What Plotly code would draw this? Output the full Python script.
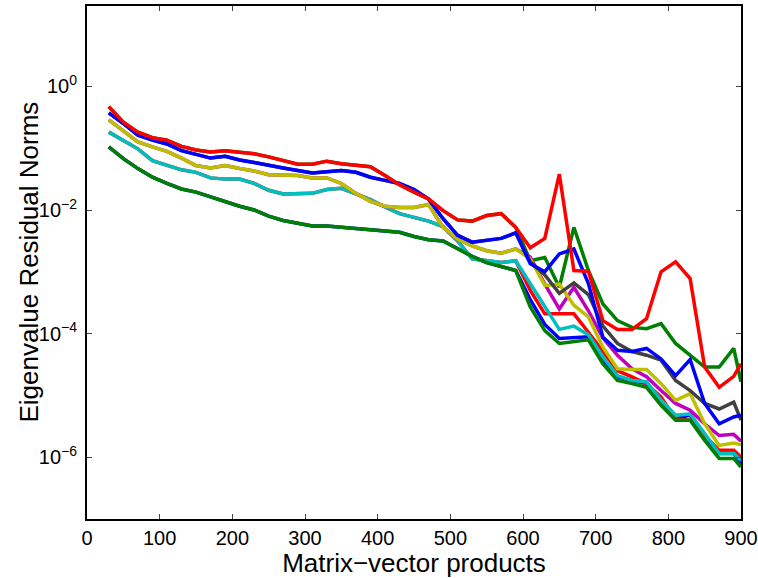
import plotly.graph_objects as go

# x positions (matrix-vector products)
x = [30, 50, 70, 90, 110, 130, 150, 170, 190, 210, 230, 250, 270, 290, 310,
     330, 350, 370, 390, 410, 430, 450, 470, 490, 510, 530, 550, 570, 590,
     610, 630, 650, 670, 690, 710, 730, 750, 770, 790, 810, 830, 850, 870, 890, 900]

# residual norms, one list per eigenvalue (colours follow the classic b,g,r,c,m,y,k cycle)
b1 = [0.105, 0.0676, 0.0468, 0.0339, 0.0269, 0.0219, 0.0195, 0.0162, 0.0138, 0.0115,
      0.0100, 0.00794, 0.00676, 0.00617, 0.00550, 0.00550, 0.00525, 0.00513, 0.00490, 0.00468,
      0.00437, 0.00372, 0.00331, 0.00316, 0.00234, 0.00178, 0.00141, 0.00120, 0.00105,
      3.55e-4, 1.41e-4, 8.32e-5, 8.71e-5, 8.91e-5, 3.72e-5, 2.00e-5, 1.74e-5, 1.55e-5,
      7.41e-6, 4.17e-6, 4.79e-6, 2.14e-6, 1.15e-6, 1.15e-6, 7.94e-7]
g1 = [0.47, 0.263, 0.182, 0.148, 0.135, 0.107, 0.0933, 0.0871, 0.0912, 0.0871,
      0.0813, 0.0724, 0.0631, 0.0550, 0.0550, 0.0617, 0.0562, 0.0537, 0.0501, 0.0363,
      0.0257, 0.0195, 0.0151, 0.00977, 0.00692, 0.00661, 0.00813, 0.00871, 0.00525,
      1.51e-3, 1.70e-3, 5.62e-4, 5.25e-3, 1.05e-3, 3.02e-4, 1.62e-4, 1.26e-4, 1.20e-4,
      1.45e-4, 6.92e-5, 4.47e-5, 2.88e-5, 2.88e-5, 5.75e-5, 1.66e-5]
r1 = [0.182, 0.135, 0.0977, 0.0631, 0.0537, 0.0447, 0.0407, 0.0331, 0.0316, 0.0316,
      0.0269, 0.0209, 0.0182, 0.0186, 0.0186, 0.0214, 0.0224, 0.0182, 0.0148, 0.0112,
      0.00871, 0.00759, 0.00661, 0.00537, 0.00316, 0.00162, 0.00151, 0.00141, 0.00151,
      5.01e-4, 2.09e-4, 2.09e-4, 2.09e-4, 1.05e-4, 5.01e-5, 2.51e-5, 2.00e-5, 1.55e-5,
      9.33e-6, 4.17e-6, 3.98e-6, 2.24e-6, 1.29e-6, 1.29e-6, 1.0e-6]
c1 = [0.182, 0.135, 0.0977, 0.0631, 0.0537, 0.0447, 0.0407, 0.0331, 0.0316, 0.0316,
      0.0269, 0.0209, 0.0182, 0.0186, 0.0186, 0.0214, 0.0224, 0.0182, 0.0148, 0.0112,
      0.00871, 0.00759, 0.00661, 0.00537, 0.00316, 0.00162, 0.00151, 0.00141, 0.00151,
      6.46e-4, 2.88e-4, 1.17e-4, 1.32e-4, 9.55e-5, 4.17e-5, 2.09e-5, 1.74e-5, 1.66e-5,
      8.32e-6, 4.79e-6, 5.01e-6, 2.40e-6, 1.15e-6, 1.15e-6, 8.91e-7]
m1 = [0.288, 0.191, 0.126, 0.105, 0.0891, 0.0692, 0.0525, 0.0479, 0.0525, 0.0468,
      0.0427, 0.0372, 0.0372, 0.0363, 0.0331, 0.0331, 0.0269, 0.0186, 0.0138, 0.0115,
      0.0110, 0.0110, 0.0123, 0.00525, 0.00339, 0.00263, 0.00219, 0.00200, 0.00234,
      1.74e-3, 6.31e-4, 2.51e-4, 5.62e-4, 2.34e-4, 8.51e-5, 4.47e-5, 2.69e-5, 2.00e-5,
      1.20e-5, 7.41e-6, 5.75e-6, 3.47e-6, 2.24e-6, 2.34e-6, 1.82e-6]
y1 = [0.288, 0.191, 0.126, 0.105, 0.0891, 0.0692, 0.0525, 0.0479, 0.0525, 0.0468,
      0.0427, 0.0372, 0.0372, 0.0363, 0.0331, 0.0331, 0.0269, 0.0186, 0.0138, 0.0115,
      0.0110, 0.0110, 0.0123, 0.00525, 0.00339, 0.00263, 0.00219, 0.00200, 0.00234,
      1.62e-3, 6.03e-4, 6.31e-4, 2.88e-4, 1.86e-4, 6.03e-5, 2.69e-5, 2.63e-5, 2.63e-5,
      1.55e-5, 8.32e-6, 1.07e-5, 3.47e-6, 1.55e-6, 1.70e-6, 1.58e-6]
k1 = [0.372, 0.251, 0.162, 0.135, 0.117, 0.0912, 0.0794, 0.0692, 0.0741, 0.0646,
      0.0589, 0.0525, 0.0479, 0.0437, 0.0398, 0.0417, 0.0437, 0.0407, 0.0339, 0.0302,
      0.0269, 0.0214, 0.0151, 0.00724, 0.00389, 0.00302, 0.00324, 0.00347, 0.00427,
      1.45e-3, 8.91e-4, 4.47e-4, 6.61e-4, 4.27e-4, 1.32e-4, 6.92e-5, 5.13e-5, 4.47e-5,
      3.72e-5, 1.74e-5, 1.20e-5, 7.41e-6, 6.03e-6, 7.76e-6, 3.98e-6]
b2 = [0.372, 0.251, 0.162, 0.135, 0.117, 0.0912, 0.0794, 0.0692, 0.0741, 0.0646,
      0.0589, 0.0525, 0.0479, 0.0437, 0.0398, 0.0417, 0.0437, 0.0407, 0.0339, 0.0302,
      0.0269, 0.0214, 0.0151, 0.00724, 0.00389, 0.00302, 0.00324, 0.00347, 0.00427,
      1.35e-3, 1.0e-3, 1.95e-3, 2.34e-3, 6.46e-4, 8.71e-5, 5.37e-5, 5.13e-5, 5.75e-5,
      3.89e-5, 2.09e-5, 3.80e-5, 7.41e-6, 3.47e-6, 4.47e-6, 4.79e-6]
g2 = [0.105, 0.0676, 0.0468, 0.0339, 0.0269, 0.0219, 0.0195, 0.0162, 0.0138, 0.0115,
      0.0100, 0.00794, 0.00676, 0.00617, 0.00550, 0.00550, 0.00525, 0.00513, 0.00490, 0.00468,
      0.00437, 0.00372, 0.00331, 0.00316, 0.00234, 0.00178, 0.00141, 0.00120, 0.00105,
      2.69e-4, 1.12e-4, 6.92e-5, 7.41e-5, 7.94e-5, 3.24e-5, 1.74e-5, 1.55e-5, 1.35e-5,
      6.92e-6, 3.98e-6, 3.98e-6, 1.86e-6, 9.55e-7, 9.55e-7, 6.92e-7]
r2 = [0.47, 0.263, 0.182, 0.148, 0.135, 0.107, 0.0933, 0.0871, 0.0912, 0.0871,
      0.0813, 0.0724, 0.0631, 0.0550, 0.0550, 0.0617, 0.0562, 0.0537, 0.0501, 0.0363,
      0.0257, 0.0195, 0.0151, 0.00977, 0.00692, 0.00661, 0.00813, 0.00871, 0.00525,
      2.45e-3, 3.47e-3, 0.0380, 1.05e-3, 1.02e-3, 1.62e-4, 1.17e-4, 1.17e-4, 1.74e-4,
      1.0e-3, 1.45e-3, 7.76e-4, 2.88e-5, 1.35e-5, 2.04e-5, 3.24e-5]

series = [b1, g1, r1, c1, m1, y1, k1, b2, g2, r2]
colors = ["#0000ff", "#008000", "#ff0000", "#00bfbf", "#bf00bf", "#bfbf00", "#404040",
          "#0000ff", "#008000", "#ff0000"]

x_ticks = [0, 100, 200, 300, 400, 500, 600, 700, 800, 900]
y_ticks = [1e-6, 1e-4, 1e-2, 1]
y_ticktext = ["10<sup>−6</sup>", "10<sup>−4</sup>", "10<sup>−2</sup>", "10<sup>0</sup>"]

FONT = "Liberation Sans, Arial, sans-serif"

fig = go.Figure()
for vals, col in zip(series, colors):
    fig.add_trace(go.Scatter(x=x, y=vals, mode="lines",
                             line=dict(color=col, width=3.5), showlegend=False,
                             hoverinfo="skip"))

axis_common = dict(showline=True, linecolor="black", linewidth=2, mirror="allticks",
                   ticks="inside", ticklen=5, tickwidth=1, tickcolor="#444",
                   showgrid=False, zeroline=False,
                   tickfont=dict(family=FONT, size=20, color="black"))

fig.update_xaxes(range=[0, 900], tickvals=x_ticks, ticklabelstandoff=0,
                 title=dict(text="Matrix−vector products",
                            font=dict(family=FONT, size=26, color="black"), standoff=2),
                 **axis_common)
fig.update_yaxes(type="log", range=[-7, 1.301], tickvals=y_ticks, ticktext=y_ticktext,
                 ticklabelstandoff=4, **axis_common)

fig.add_annotation(text="Eigenvalue Residual Norms", textangle=-90,
                   xref="paper", yref="paper", x=(28 - 87) / 654, y=0.5,
                   xanchor="center", yanchor="middle", showarrow=False,
                   font=dict(family=FONT, size=26, color="black"))

fig.update_layout(width=758, height=578,
                  margin=dict(l=87, r=17, t=6, b=59, autoexpand=False),
                  paper_bgcolor="white", plot_bgcolor="white",
                  font=dict(family=FONT, color="black"))

fig.write_html("out.html")
